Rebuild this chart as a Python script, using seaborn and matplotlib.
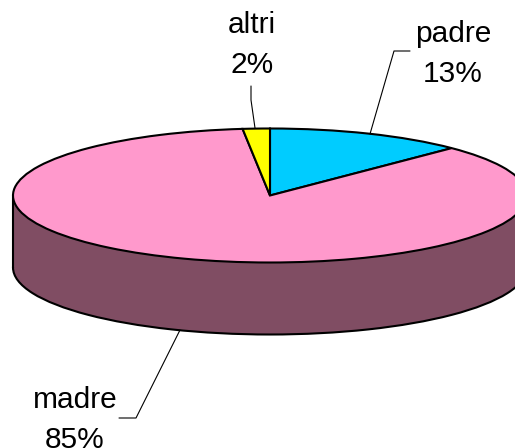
import matplotlib
matplotlib.use('Agg')
import matplotlib.pyplot as plt
import seaborn as sns

labels = ['padre', 'madre', 'altri']
percents = ['13%', '85%', '2%']
values = [12.5, 85.8, 1.7]
top_colors = ['#00CCFF', '#FF99CC', '#FFFF00']
side_color = '#804D63'

sns.set_style('white')
plt.rcParams['font.family'] = ['Liberation Sans', 'DejaVu Sans']

fig = plt.figure(figsize=(5.15, 4.48), dpi=100)
ax = fig.add_axes([0, 0, 1, 1])

depth = 72 / 67
lw = 1.5

# side of the cylinder, then the top on it
ax.pie([1], colors=[side_color], center=(0, -depth), radius=1, startangle=90,
       wedgeprops={'edgecolor': 'black', 'linewidth': lw, 'zorder': 1})
ax.fill_between([-1, 1], -depth, 0, color=side_color, lw=0, zorder=2)
ax.plot([-1, -1], [-depth, 0], color='black', lw=lw, zorder=2)
ax.plot([1, 1], [-depth, 0], color='black', lw=lw, zorder=2)
wedges, _ = ax.pie(values, colors=top_colors, center=(0, 0), radius=1,
                   startangle=90, counterclock=False,
                   wedgeprops={'edgecolor': 'black', 'linewidth': lw})
for w in wedges:
    w.set_zorder(3)

# stretch the pie into an ellipse, 257 px wide and 67 px high per unit
ax.set_aspect('auto')
ax.set_xlim(-270 / 257, 245 / 257)
ax.set_ylim(-(448 - 195.5) / 67, 195.5 / 67)
ax.axis('off')

def px(x, y):
    return (x - 270) / 257, (195.5 - y) / 67

# leader lines
for pts in ([(255, 128), (251, 100), (251, 86)],
            [(370, 134), (394, 51), (410, 51)],
            [(180, 330), (136, 418), (119, 418)]):
    xs, ys = zip(*[px(*p) for p in pts])
    ax.plot(xs, ys, color='black', lw=0.8, zorder=4)

# label positions: centre x, first baseline y
label_pos = {'padre': (453, 42), 'madre': (75, 408), 'altri': (252, 33)}
for name, pct in zip(labels, percents):
    x, y = label_pos[name]
    ax.text(*px(x, y), name, ha='center', va='baseline', fontsize=21.5, color='black')
    ax.text(*px(x, y + 40), pct, ha='center', va='baseline', fontsize=21.5, color='black')

fig.savefig('out.png', dpi=100, facecolor='white')
